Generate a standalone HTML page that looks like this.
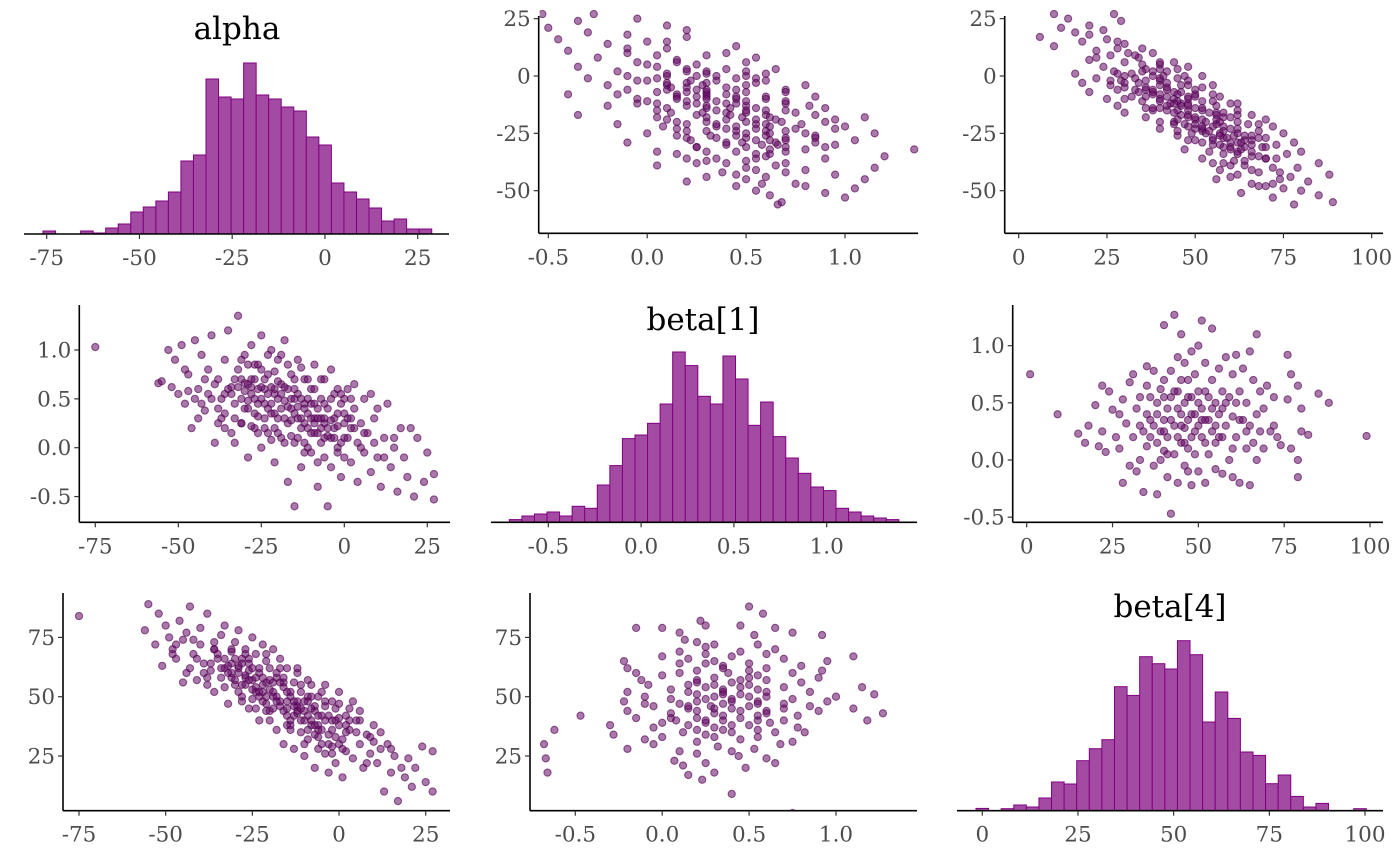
<!DOCTYPE html>
<html><head><meta charset="utf-8"><style>
html,body{margin:0;padding:0;background:#fff;}
svg{display:block;}
text{font-family:"DejaVu Serif","Liberation Serif",serif;}
</style></head><body>
<svg id="c" width="1400" height="866" viewBox="0 0 1400 866"></svg>
<script>
// Histogram bin heights (estimated counts)
const alphaCounts=[3,0,0,3,1,6,10,22,27,33,42,73,79,155,137,135,171,139,135,127,123,97,89,51,42,35,26,13,15,5,5];
const beta1Counts=[2.7,6.3,8.3,10.3,6.3,16,14,37.3,56.7,83.7,87.3,99,118.3,170.3,156.7,126,118.3,166.3,143.3,97,120.3,85.7,64.3,49,35.3,31.7,14,10.3,6.3,4.3,2.7];
const beta4Counts=[2.3,0,2,5.7,3.7,12.7,28.7,26.7,50,62,71,124,115.3,154,147,141.7,170,156,88.7,118.7,92.3,58.7,55.3,27,35.7,14.3,3.7,7.3,0,0,2];
const alphaBins={start:-76.0,width:3.38};
const beta1Bins={start:-0.71,width:0.0677};
const beta4Bins={start:-1.65,width:3.29};
// Tick labels
const alphaTicks=[-75,-50,-25,0,25];
const alphaTicksUpper=[25,0,-25,-50];
const beta1Ticks=[-0.5,0.0,0.5,1.0];
const beta4Ticks=[0,25,50,75,100];
const beta4TicksY=[25,50,75];
// Posterior draws [alpha, beta1, beta4]
const alphaDraws=[];const beta1Draws=[];const beta4Draws=[];
const draws=[[-75,1.03,84],[-56,0.66,78],[-55,0.68,89],[-53,1.0,72],[-52,0.62,85],[-51,0.9,63],[-50,0.55,80],[-49,1.05,75],[-48,0.45,70],[-47,0.75,66],[-46,0.2,82],[-45,1.1,74],[-44,0.6,60],[-43,0.95,88],[-42,0.38,68],[-41,0.8,57],[-40,1.15,79],[-40,0.5,72],[-39,0.05,64],[-38,0.7,85],[-37,0.3,61],[-36,0.9,70],[-36,0.55,52],[-35,1.2,66],[-34,0.15,76],[-34,0.62,58],[-33,0.45,80],[-32,1.35,63],[-32,0.8,47],[-31,0.25,69],[-30,0.58,73],[-30,0.95,55],[-29,-0.1,62],[-29,0.4,78],[-28,0.7,50],[-28,1.05,66],[-27,0.2,58],[-27,0.5,70],[-26,0.85,45],[-26,0.32,64],[-25,1.15,57],[-25,0.0,75],[-24,0.6,52],[-24,0.45,68],[-23,0.75,40],[-23,0.15,60],[-22,1.0,72],[-22,0.35,48],[-21,0.55,65],[-21,-0.15,56],[-20,0.9,44],[-20,0.3,62],[-19,0.65,70],[-19,0.1,50],[-18,0.48,36],[-18,1.1,58],[-17,-0.35,66],[-17,0.25,46],[-16,0.75,54],[-16,0.4,30],[-15,-0.6,62],[-15,0.05,42],[-14,0.55,50],[-14,0.9,38],[-13,0.2,56],[-13,-0.2,28],[-12,0.45,46],[-12,0.7,60],[-11,0.0,35],[-11,0.35,52],[-10,0.6,40],[-10,-0.05,25],[-9,0.3,48],[-9,0.85,32],[-8,0.15,55],[-8,-0.4,38],[-7,0.5,44],[-7,0.05,20],[-6,0.25,36],[-6,0.7,50],[-5,-0.6,30],[-5,0.4,42],[-4,0.1,26],[-4,-0.2,48],[-3,0.55,34],[-3,0.2,18],[-2,0.0,40],[-2,0.35,29],[-1,-0.3,45],[-1,0.45,22],[0,0.1,38],[0,-0.1,52],[1,0.3,32],[1,0.6,16],[2,-0.15,42],[2,0.2,27],[3,0.4,36],[4,-0.35,48],[4,0.05,24],[5,0.25,40],[6,-0.05,30],[6,0.5,44],[7,0.15,20],[8,-0.25,34],[9,0.3,26],[10,-0.1,38],[10,0.4,31],[11,-0.4,22],[12,0.1,28],[13,0.45,10],[14,-0.2,30],[15,0.1,18],[16,-0.45,25],[17,0.2,6],[18,-0.1,20],[19,-0.3,16],[20,0.2,24],[21,-0.5,12],[22,0.1,20],[24,-0.35,29],[25,-0.05,14],[27,-0.27,27],[27,-0.53,10],
[-35,0.6,68],[-33,0.7,62],[-31,0.5,58],[-30,0.4,66],[-29,0.65,60],[-28,0.55,64],[-27,0.35,55],[-26,0.6,61],[-25,0.5,53],[-24,0.3,58],[-23,0.55,62],[-22,0.45,55],[-21,0.6,50],[-20,0.5,57],[-19,0.4,52],[-18,0.3,60],[-17,0.6,48],[-16,0.5,56],[-15,0.35,45],[-14,0.3,52],[-13,0.5,42],[-12,0.25,48],[-11,0.5,55],[-10,0.3,44],[-9,0.15,50],[-8,0.4,40],[-7,0.3,46],[-6,0.1,38],[-5,0.2,52],[-3,0.3,42],[-44,0.3,77],[-48,0.8,68],[-42,0.7,74],[-38,0.4,58],[-36,0.2,70],[-33,0.05,66],[-31,0.9,60],[-27,0.85,68],[-23,0.95,50],[-21,0.2,68],[-17,0.85,62],[-15,0.7,38],[-12,0.05,62],[-9,0.6,57],[-6,0.45,28],[-2,0.6,48],[0,0.5,30],[3,0.65,40],[5,0.0,35],[8,0.55,22],
[-34,0.55,62],[-32,0.62,60],[-31,0.7,64],[-30,0.66,57],[-29,0.48,63],[-28,0.62,55],[-27,0.7,59],[-26,0.45,57],[-25,0.62,49],[-24,0.7,54],[-23,0.4,52],[-22,0.62,58],[-21,0.35,47],[-20,0.68,53],[-19,0.55,45],[-18,0.62,50],[-17,0.42,56],[-16,0.28,44],[-15,0.5,48],[-14,0.42,40],[-13,0.3,46],[-12,0.4,43],[-11,0.2,45],[-10,0.45,48],[-9,0.25,42],[-8,0.3,45],[-7,0.2,38],[-6,0.3,33],[-5,0.12,36],[-4,0.28,40],[-3,0.1,30],[-2,0.22,36],[-1,0.05,33],[0,0.25,41],[1,0.1,28],[2,0.3,35],[-37,0.5,64],[-39,0.65,60],[-41,0.55,66],[-43,0.45,62],[-45,0.5,56],[-47,0.58,72],[-38,0.25,55],[-36,0.35,73],[-33,0.3,54],[-31,0.25,70],[-28,0.22,48],[-26,0.15,66],[-24,0.2,45],[-22,0.08,52],[-20,0.15,40],[-18,0.05,48],[-16,0.12,58],[-14,0.1,36],[-12,-0.05,44],[-10,0.15,30],[-8,-0.15,50],[-6,-0.1,42],[-4,0.5,55],[-2,-0.05,26],[0,0.35,47],[2,0.5,38],[-29,0.85,52],[-25,0.8,62],[-21,0.78,44],[-19,0.95,56],[-15,0.6,52],[-13,0.82,48],[-11,0.7,40],[-9,0.45,36],[-7,0.7,34],[-4,0.8,46],[-1,0.55,40],[3,0.2,45],[6,0.15,40],[9,0.05,33],[12,-0.1,35],[15,0.0,28]];
draws.forEach(d=>{alphaDraws.push(d[0]);beta1Draws.push(d[1]);beta4Draws.push(d[2]);});
// beta[4] / beta[1] pairs (roughly uncorrelated) [beta4, beta1]
const pairBeta4=[];const pairBeta1=[];
const pairs=[[1,0.75],[9,0.4],[15,0.23],[17,0.15],[18,-0.66],[18,0.3],[20,0.48],[21,0.12],[22,0.65],[22,0.25],[23,0.07],[24,-0.67],[24,0.6],[25,0.44],[26,0.2],[27,0.4],[27,0.1],[28,0.53],[28,-0.2],[29,0.32],[30,-0.05],[30,-0.68],[30,0.68],[31,0.2],[31,0.75],[32,-0.1],[32,0.45],[33,0.55],[33,0.0],[34,0.25],[34,-0.28],[35,0.82],[35,0.4],[35,0.12],[36,-0.62],[36,0.55],[36,0.2],[37,0.3],[37,0.78],[37,-0.05],[38,0.5],[38,0.15],[38,-0.3],[39,0.62],[39,0.25],[39,0.0],[40,1.18],[40,0.7],[40,0.35],[40,0.08],[41,0.45],[41,-0.15],[41,0.2],[42,0.78],[42,0.55],[42,-0.47],[43,1.27],[43,0.3],[43,0.05],[44,0.9],[44,0.6],[44,0.2],[44,-0.2],[45,1.1],[45,0.4],[45,0.15],[46,0.85],[46,0.5],[46,0.28],[46,-0.05],[47,0.7],[47,0.1],[47,0.35],[48,0.95],[48,0.55],[48,0.2],[48,-0.22],[49,0.75],[49,0.4],[49,0.05],[50,1.0],[50,0.6],[50,0.3],[50,-0.1],[51,1.22],[51,0.45],[51,0.2],[52,0.85],[52,0.6],[52,-0.2],[53,0.35],[53,0.05],[54,1.15],[54,0.7],[54,0.25],[55,0.5],[55,-0.08],[55,0.15],[56,0.8],[56,0.4],[57,0.6],[57,0.2],[57,-0.12],[58,0.9],[58,0.3],[59,0.55],[59,0.0],[60,0.75],[60,0.38],[60,-0.15],[61,0.92],[61,0.5],[61,0.2],[62,0.6],[62,-0.2],[63,0.8],[63,0.35],[64,0.1],[64,0.5],[65,0.95],[65,0.3],[65,-0.22],[66,0.7],[66,0.15],[67,1.1],[67,0.4],[67,0.0],[68,0.6],[68,0.25],[69,0.1],[69,0.45],[70,0.65],[71,0.25],[72,0.55],[72,0.3],[73,0.2],[74,0.13],[76,0.92],[76,0.53],[77,0.75],[77,0.1],[79,0.65],[79,0.0],[79,-0.15],[80,0.45],[80,0.25],[82,0.22],[85,0.58],[88,0.5],[99,0.21],
[38,0.4],[40,0.25],[42,0.35],[44,0.45],[45,0.3],[46,0.15],[47,0.55],[48,0.4],[49,0.25],[50,0.5],[51,0.35],[52,0.15],[53,0.55],[54,0.45],[55,0.3],[56,0.2],[58,0.5],[40,0.55],[43,0.6],[36,0.35],[33,0.3],[35,0.65],[41,0.05],[45,0.7],[47,-0.1],[52,0.35],[57,0.45],[62,0.35],[60,0.1],[64,0.25]];
pairs.forEach(p=>{pairBeta4.push(p[0]);pairBeta1.push(p[1]);});

const NS='http://www.w3.org/2000/svg';
const svg=document.getElementById('c');
function el(tag,attrs,parent){const e=document.createElementNS(NS,tag);for(const k in attrs)e.setAttribute(k,attrs[k]);(parent||svg).appendChild(e);return e;}
function lin(d0,p0,d1,p1){return v=>p0+(v-d0)*(p1-p0)/(d1-d0);}
function fmt(v,dec){return dec?v.toFixed(1):String(v);}
const TICK_FS=21.5, TITLE_FS=31;

function xAxis(g,x,y0,xl,xr,ticks,dec){
  const a=el('line',{x1:xl,x2:xr,y1:y0,y2:y0,stroke:'#000','stroke-width':1.6},g);
  
  ticks.forEach(t=>{
    const px=x(t);
    const tk=el('line',{x1:px,x2:px,y1:y0,y2:y0+5,stroke:'#333','stroke-width':1.2},g);
    
    const tx=el('text',{x:px,y:y0+31,'text-anchor':'middle','font-size':TICK_FS,fill:'#4d4d4d'},g);
    tx.textContent=fmt(t,dec);
    
  });
}
function yAxis(g,y,x0,yt,yb,ticks,dec){
  const a=el('line',{x1:x0,x2:x0,y1:yt,y2:yb,stroke:'#000','stroke-width':1.6},g);
  
  ticks.forEach(t=>{
    const py=y(t);
    const tk=el('line',{x1:x0-5,x2:x0,y1:py,y2:py,stroke:'#333','stroke-width':1.2},g);
    
    const tx=el('text',{x:x0-8,y:py+7.5,'text-anchor':'end','font-size':TICK_FS,fill:'#4d4d4d'},g);
    tx.textContent=fmt(t,dec);
    
  });
}
function hist(name,title,counts,bins,x,y0,xl,xr,ticks,dec,tx,ty){
  const g=el('g',{});
  
  const t=el('text',{x:tx,y:ty,'text-anchor':'middle','font-size':TITLE_FS,fill:'#000'},g);
  t.textContent=title;
  
  counts.forEach((c,i)=>{
    if(c<=0)return;
    const a=bins.start+i*bins.width;
    const px0=x(a),px1=x(a+bins.width);
    const r=el('rect',{x:px0,y:y0-c,width:px1-px0,height:c,fill:'#a34ba3',stroke:'#800080','stroke-width':1},g);
    
  });
  xAxis(g,x,y0,xl,xr,ticks,dec);
}
let clipId=0;
function scatter(name,xs,ys,x,y,x0,y0,top,right,xt,xdec,yt,ydec){
  const g=el('g',{});
  
  const id='clip'+(clipId++);
  const cp=el('clipPath',{id:id},g);
  el('rect',{x:x0+1,y:top-6,width:right-x0,height:y0-top+5},cp);
  const pg=el('g',{'clip-path':'url(#'+id+')'},g);
  xs.forEach((v,i)=>{
    const c=el('circle',{cx:x(v),cy:y(ys[i]),r:3.6,fill:'rgba(100,10,100,0.55)',stroke:'rgba(80,0,80,0.6)','stroke-width':1.1},pg);
    
  });
  yAxis(g,y,x0,top,y0,yt,ydec);
  xAxis(g,x,y0,x0,right,xt,xdec);
}

// Row 1
hist('alpha-histogram','alpha',alphaCounts,alphaBins,lin(-75,46.7,25,417.7),234,24,449,alphaTicks,false,237,39);
scatter('alpha-vs-beta1-scatter',beta1Draws,alphaDraws,lin(-0.5,548.3,1.0,845),lin(0,76,-50,190.7),538.7,233.3,16,918,beta1Ticks,true,alphaTicksUpper,false);
scatter('alpha-vs-beta4-scatter',beta4Draws,alphaDraws,lin(0,1018.7,100,1371.7),lin(0,76,-50,190.7),1004.7,233.3,16,1383,beta4Ticks,false,alphaTicksUpper,false);
// Row 2
scatter('beta1-vs-alpha-scatter',alphaDraws,beta1Draws,lin(-75,95.3,25,427.3),lin(0,447.7,1,350),79.3,522.3,305,450,alphaTicks,false,[-0.5,0.0,0.5,1.0],true);
hist('beta1-histogram','beta[1]',beta1Counts,beta1Bins,lin(-0.5,548.3,1.0,826.7),522.3,491,917,beta1Ticks,true,703,330);
scatter('beta1-vs-beta4-scatter',pairBeta4,pairBeta1,lin(0,1026.7,100,1370),lin(0,460,1,345.7),1012.7,522.3,305,1383,beta4Ticks,false,[-0.5,0.0,0.5,1.0],true);
// Row 3
scatter('beta4-vs-alpha-scatter',alphaDraws,beta4Draws,lin(-75,79,25,425.7),lin(50,696.7,25,756),63,810.7,593,450,alphaTicks,false,beta4TicksY,false);
scatter('beta4-vs-beta1-scatter',pairBeta1,pairBeta4,lin(-0.5,575.3,1.0,836),lin(50,696.7,25,756),530,810.7,593,917,beta1Ticks,true,beta4TicksY,false);
hist('beta4-histogram','beta[4]',beta4Counts,beta4Bins,lin(0,982.3,100,1365),810.7,957,1383,beta4Ticks,false,1170,617);
</script>
</body></html>
